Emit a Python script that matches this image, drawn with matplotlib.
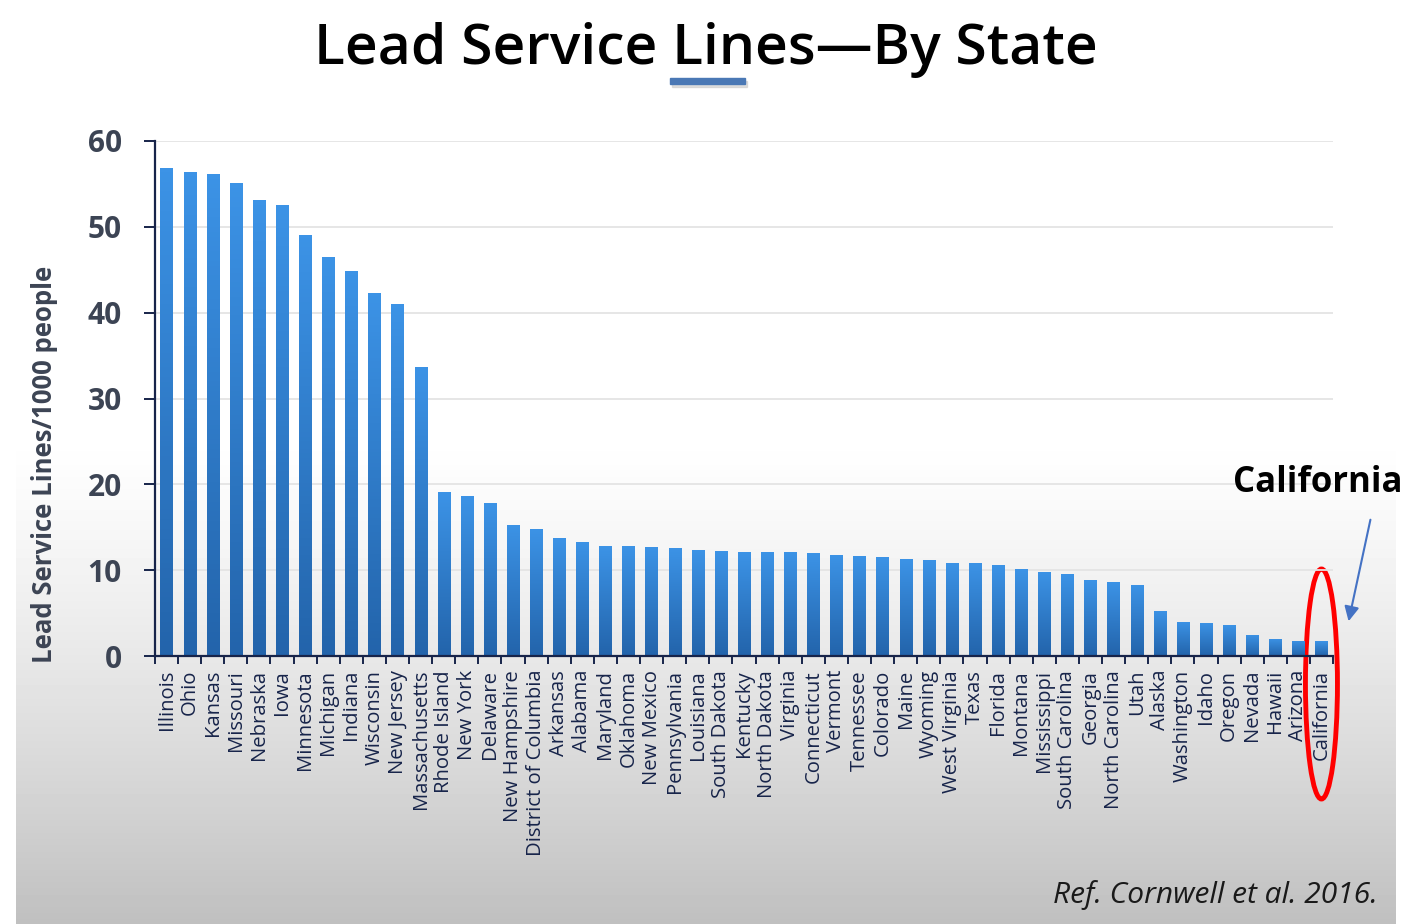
import numpy as np
import matplotlib.pyplot as plt
from matplotlib.colors import LinearSegmentedColormap
from matplotlib.patches import Ellipse, Rectangle, FancyArrowPatch

states = ['Illinois', 'Ohio', 'Kansas', 'Missouri', 'Nebraska', 'Iowa', 'Minnesota',
          'Michigan', 'Indiana', 'Wisconsin', 'New Jersey', 'Massachusetts',
          'Rhode Island', 'New York', 'Delaware', 'New Hampshire', 'District of Columbia',
          'Arkansas', 'Alabama', 'Maryland', 'Oklahoma', 'New Mexico', 'Pennsylvania',
          'Louisiana', 'South Dakota', 'Kentucky', 'North Dakota', 'Virginia',
          'Connecticut', 'Vermont', 'Tennessee', 'Colorado', 'Maine', 'Wyoming',
          'West Virginia', 'Texas', 'Florida', 'Montana', 'Mississippi', 'South Carolina',
          'Georgia', 'North Carolina', 'Utah', 'Alaska', 'Washington', 'Idaho', 'Oregon',
          'Nevada', 'Hawaii', 'Arizona', 'California']
values = [56.9, 56.4, 56.1, 55.1, 53.1, 52.5, 49.1,
          46.5, 44.8, 42.3, 41.0, 33.7,
          19.1, 18.6, 17.8, 15.3, 14.8,
          13.8, 13.3, 12.8, 12.8, 12.7, 12.6,
          12.3, 12.2, 12.1, 12.1, 12.1,
          12.0, 11.8, 11.7, 11.5, 11.3, 11.2,
          10.8, 10.8, 10.6, 10.1, 9.8, 9.5,
          8.8, 8.6, 8.3, 5.3, 4.0, 3.9, 3.6,
          2.5, 2.0, 1.8, 1.7]

W, H = 1418, 924
navy = '#17244a'
grey_txt = '#3c4454'
plt.rcParams['font.family'] = ['Open Sans', 'DejaVu Sans']

fig = plt.figure(figsize=(W / 100, H / 100), dpi=100)
fig.patch.set_facecolor('white')

# slide background: white on top, grey gradient towards the bottom
bg = fig.add_axes([16 / W, 0, (1396 - 16) / W, 1], zorder=0)
rows = np.arange(H)
t = np.clip((rows - 430) / (H - 430), 0, 1)
shade = 1.0 - 0.25 * t ** 1.3
bg.imshow(shade[:, None], cmap='gray', vmin=0, vmax=1, aspect='auto',
          extent=[0, 1, 0, 1], origin='upper')
bg.axis('off')

ax = fig.add_axes([155 / W, (H - 656) / H, (1333 - 155) / W, (656 - 141) / H], zorder=1)
ax.patch.set_alpha(0)

x = np.arange(len(states))
bars = ax.bar(x, values, width=0.53, color='#2f7fd0', zorder=2)

cmap = LinearSegmentedColormap.from_list('barblue', ['#2364ab', '#3c93e6'])
grad = np.linspace(0, 1, 100)[:, None]
for b in bars:
    x0 = b.get_x()
    im = ax.imshow(grad, cmap=cmap, aspect='auto', origin='lower', zorder=3,
                   extent=[x0, x0 + b.get_width(), 0, b.get_height()])
    im.set_clip_path(b)

ax.set_xlim(-0.5, len(states) - 0.5)
ax.set_ylim(0, 60)
ax.set_yticks(range(0, 61, 10))
ax.yaxis.grid(True, color='#e4e4e4', lw=1.3, zorder=0)
ax.set_axisbelow(True)

for s in ['top', 'right']:
    ax.spines[s].set_visible(False)
for s in ['left', 'bottom']:
    ax.spines[s].set_color(navy)
    ax.spines[s].set_linewidth(1.6)
    ax.spines[s].set_zorder(4)

ax.set_xticks(x)
ax.set_xticklabels(states, rotation=90, fontsize=14.6, color=navy)
ax.set_xticks(np.arange(-0.5, len(states), 1), minor=True)
ax.tick_params(axis='x', which='major', length=0, pad=10)
ax.tick_params(axis='x', which='minor', length=6, width=1.4, color=navy, direction='out')
ax.tick_params(axis='y', length=8, width=1.4, color=navy, pad=16)
for lab in ax.get_yticklabels():
    lab.set_fontsize(21.5)
    lab.set_fontweight('bold')
    lab.set_color(grey_txt)

fig.text(45 / W, (H - 464) / H, 'Lead Service Lines/1000 people', rotation=90,
         ha='center', va='center', fontsize=18.5, fontweight='bold', color=grey_txt)

fig.text(706 / W, (H - 50) / H, 'Lead Service Lines\u2014By State', ha='center',
         va='center', fontsize=41, fontweight='semibold', color='black')
fig.add_artist(Rectangle((672 / W, (H - 87) / H), 75 / W, 6 / H,
                         transform=fig.transFigure, color='#c9c9c9', alpha=0.6))
fig.add_artist(Rectangle((670 / W, (H - 84) / H), 75 / W, 6 / H,
                         transform=fig.transFigure, color='#4a78b5'))

# highlight California
fig.canvas.draw()
ci = states.index('California')
px, _ = ax.transData.transform((ci, 0))
fig.add_artist(Ellipse((px / W, (H - 684) / H), 32 / W, 230 / H,
                       transform=fig.transFigure, fill=False, ec='#ff0000', lw=3.5))
fig.text(1318 / W, (H - 483) / H, 'California', ha='center', va='center',
         fontsize=25, fontweight='bold', color='black')
fig.add_artist(FancyArrowPatch((1371 / W, (H - 517) / H), (1348 / W, (H - 624) / H),
                               transform=fig.transFigure, arrowstyle='-|>',
                               mutation_scale=22, color='#4472c4', lw=1.5))

fig.text(1378 / W, (H - 895) / H, 'Ref. Cornwell et al. 2016.', ha='right',
         va='center', fontsize=21.5, style='italic', color='#1a1a1a')

fig.savefig('out.png', dpi=100)
